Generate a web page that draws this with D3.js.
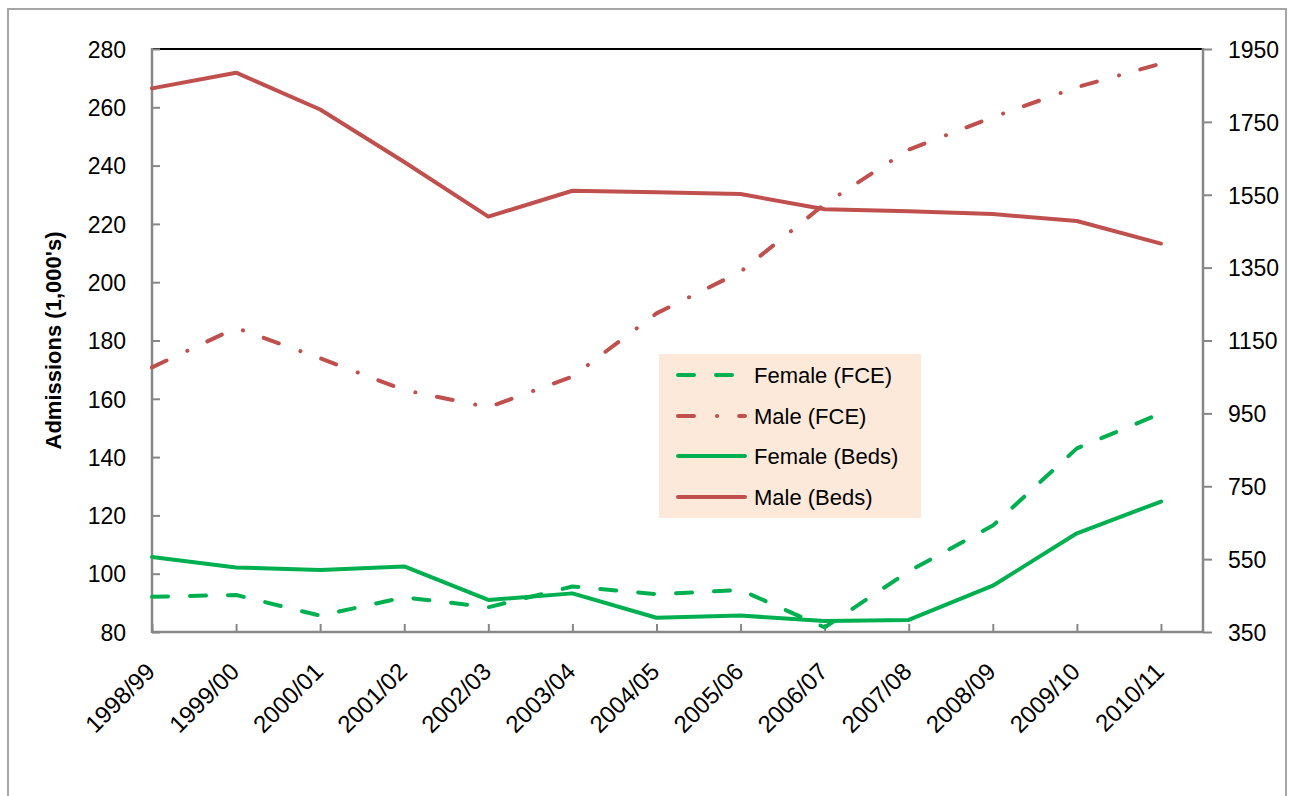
<!DOCTYPE html>
<html>
<head>
<meta charset="utf-8">
<script src="https://cdn.jsdelivr.net/npm/d3@7"></script>
<style>
  body { margin: 0; background: #fff; }
  svg { display: block; }
  text { font-family: "Liberation Sans", Arial, sans-serif; fill: #000; }
</style>
</head>
<body>
<svg id="chart" width="1298" height="796"></svg>
<script>
// ---------------- data ----------------
const categories = ["1998/99", "1999/00", "2000/01", "2001/02", "2002/03", "2003/04", "2004/05",
                    "2005/06", "2006/07", "2007/08", "2008/09", "2009/10", "2010/11"];
// Admissions (1,000's) - left axis
const femaleFCE = [92.1, 92.7, 85.6, 91.9, 88.5, 95.6, 93.0, 94.4, 81.6, 100.8, 116.5, 143.0, 155.0];
const maleFCE   = [170.8, 184.3, 173.9, 163.0, 157.1, 167.6, 189.3, 203.6, 226.8, 245.5, 256.6, 266.9, 275.0];
// Beds - right axis
const femaleBeds = [556, 527, 520, 530, 438, 456, 389, 395, 380, 383, 477, 621, 708];
const maleBeds   = [1842, 1885, 1784, 1640, 1490, 1561, 1557, 1552, 1510, 1505, 1497, 1478, 1416];
const leftTicks  = [80, 100, 120, 140, 160, 180, 200, 220, 240, 260, 280];
const rightTicks = [350, 550, 750, 950, 1150, 1350, 1550, 1750, 1950];
const legendLabels = ["Female (FCE)", "Male (FCE)", "Female (Beds)", "Male (Beds)"];
const yTitle = "Admissions (1,000's)";

// ---------------- layout ----------------
const P = { left: 152, right: 1203, top: 49, bottom: 632 };
const RED = "#C0504D", GREEN = "#00B050", AXIS = "#878787";
const FS_TICK = 23, FS_CAT = 24, FS_LEG = 22, FS_TITLE = 22;
const FONT = '"Liberation Sans", Arial, sans-serif';

const svg = d3.select("#chart");

// outer chart border
svg.append("rect").attr("x", 8).attr("y", 9).attr("width", 1278).attr("height", 820)
  .attr("fill", "#fff").attr("stroke", "#a6a6a6").attr("stroke-width", 2);

const x = d3.scalePoint().domain(categories)
  .range([P.left, P.left + (P.right - P.left) * (categories.length - 1) / (categories.length - 0.5)]);
const yL = d3.scaleLinear().domain([80, 280]).range([P.bottom, P.top]);
const yR = d3.scaleLinear().domain([350, 1950]).range([P.bottom, P.top]);

// top black border line
svg.append("line").attr("x1", P.left).attr("x2", P.right).attr("y1", P.top).attr("y2", P.top)
  .attr("stroke", "#000").attr("stroke-width", 2);

// left axis
const gL = svg.append("g").attr("transform", `translate(${P.left},0)`)
  .call(d3.axisLeft(yL).tickValues(leftTicks).tickSizeInner(-8).tickSizeOuter(0).tickPadding(26));
// right axis
const gR = svg.append("g").attr("transform", `translate(${P.right},0)`)
  .call(d3.axisRight(yR).tickValues(rightTicks).tickFormat(d3.format("d"))
    .tickSizeInner(9).tickSizeOuter(0).tickPadding(16));
// bottom axis
const gB = svg.append("g").attr("transform", `translate(0,${P.bottom})`)
  .call(d3.axisBottom(x).tickSizeInner(-8).tickSizeOuter(0).tickFormat(""));

[gL, gR, gB].forEach(g => {
  g.select(".domain").remove();
  g.selectAll(".tick line").attr("stroke", AXIS).attr("stroke-width", 2);
  g.selectAll("text").attr("font-size", FS_TICK).attr("font-family", FONT).attr("fill", "#000");
});
gL.selectAll("text").attr("dy", "0.36em");
gR.selectAll("text").attr("dy", "0.36em");

// axis lines
svg.append("line").attr("x1", P.left).attr("x2", P.left).attr("y1", P.top - 1).attr("y2", P.bottom + 1)
  .attr("stroke", AXIS).attr("stroke-width", 2.5);
svg.append("line").attr("x1", P.right).attr("x2", P.right).attr("y1", P.top - 1).attr("y2", P.bottom + 1)
  .attr("stroke", AXIS).attr("stroke-width", 2.5);
svg.append("line").attr("x1", P.left).attr("x2", P.right).attr("y1", P.bottom).attr("y2", P.bottom)
  .attr("stroke", AXIS).attr("stroke-width", 2.5);

// category labels, rotated
gB.selectAll(".tick").append("text")
  .attr("transform", "translate(4,41) rotate(-45)")
  .attr("text-anchor", "end")
  .attr("font-size", FS_CAT)
  .attr("font-family", FONT)
  .attr("fill", "#000")
  .text(d => d);

// y-axis title
svg.append("text")
  .attr("transform", `translate(61,${(P.top + P.bottom) / 2}) rotate(-90)`)
  .attr("text-anchor", "middle")
  .attr("font-size", FS_TITLE).attr("font-weight", "bold")
  .text(yTitle);

// ---------------- series ----------------
const DASH = "16,22";
const DASHDOT = "16,23,0.1,22";
const series = [
  { name: legendLabels[0], values: femaleFCE, y: yL, color: GREEN, dash: DASH },
  { name: legendLabels[1], values: maleFCE, y: yL, color: RED, dash: DASHDOT },
  { name: legendLabels[2], values: femaleBeds, y: yR, color: GREEN, dash: null },
  { name: legendLabels[3], values: maleBeds, y: yR, color: RED, dash: null }
];

series.forEach(s => {
  const line = d3.line().x((d, i) => x(categories[i])).y(d => s.y(d));
  svg.append("path").datum(s.values)
    .attr("d", line)
    .attr("fill", "none")
    .attr("stroke", s.color)
    .attr("stroke-width", 4)
    .attr("stroke-linecap", "round")
    .attr("stroke-linejoin", "round")
    .attr("stroke-dasharray", s.dash);
});

// ---------------- legend ----------------
const lg = svg.append("g");
lg.append("rect").attr("x", 659).attr("y", 354).attr("width", 262).attr("height", 164).attr("fill", "#FDE9D9");
const rowY = [375, 416, 456, 497];
series.forEach((s, i) => {
  lg.append("line").attr("x1", 678).attr("x2", 745).attr("y1", rowY[i]).attr("y2", rowY[i])
    .attr("stroke", s.color).attr("stroke-width", 4).attr("stroke-linecap", "round")
    .attr("stroke-dasharray", s.dash);
  lg.append("text").attr("x", 754).attr("y", rowY[i]).attr("dy", "0.36em")
    .attr("font-size", FS_LEG).text(s.name);
});
</script>
</body>
</html>
